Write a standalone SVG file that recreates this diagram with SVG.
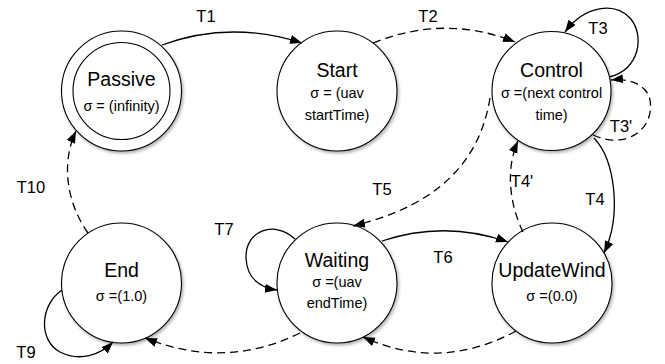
<svg xmlns="http://www.w3.org/2000/svg" width="665" height="364" viewBox="0 0 665 364">
<style>
.node{fill:#fff;stroke:#000;stroke-width:1.1}
.title{font-family:"Liberation Sans",Arial,sans-serif;font-size:19.5px;text-anchor:middle;fill:#000}
.sig{font-family:"Liberation Sans",Arial,sans-serif;font-size:14.5px;text-anchor:middle;fill:#000}
.lbl{font-family:"Liberation Sans",Arial,sans-serif;font-size:16.5px;text-anchor:middle;fill:#000}
.edge{fill:none;stroke:#000;stroke-width:1.3;marker-end:url(#arr)}
.dash{stroke-dasharray:8 5}
</style>
<defs>
<marker id="arr" markerUnits="userSpaceOnUse" markerWidth="13" markerHeight="10" refX="12" refY="4.5" orient="auto">
<path d="M0,0 L12,4.5 L0,9 z" fill="#000"/>
</marker>
<filter id="sh" x="-20%" y="-20%" width="150%" height="150%">
<feDropShadow dx="1.5" dy="2" stdDeviation="1.5" flood-color="#000" flood-opacity="0.3"/>
</filter>
</defs>
<g id="Passive">
<circle class="node" cx="121.5" cy="91" r="60" filter="url(#sh)"/>
<circle class="node" cx="121.5" cy="91" r="48.5"/>
<text class="title" x="121.5" y="86">Passive</text>
<text class="sig" x="121.5" y="111">σ = (infinity)</text>
</g>
<g id="Start">
<circle class="node" cx="337" cy="91" r="60" filter="url(#sh)"/>
<text class="title" x="337" y="77">Start</text>
<text class="sig" x="337" y="98">σ = (uav</text>
<text class="sig" x="337" y="120">startTime)</text>
</g>
<g id="Control">
<circle class="node" cx="551.5" cy="91" r="59.5" filter="url(#sh)"/>
<text class="title" x="551.5" y="77">Control</text>
<text class="sig" x="551.5" y="98">σ =(next control</text>
<text class="sig" x="551.5" y="120">time)</text>
</g>
<g id="End">
<circle class="node" cx="121.5" cy="283" r="60" filter="url(#sh)"/>
<text class="title" x="121.5" y="277">End</text>
<text class="sig" x="121.5" y="301">σ =(1.0)</text>
</g>
<g id="Waiting">
<circle class="node" cx="337" cy="283" r="60" filter="url(#sh)"/>
<text class="title" x="337" y="267">Waiting</text>
<text class="sig" x="337" y="287">σ =(uav</text>
<text class="sig" x="337" y="308">endTime)</text>
</g>
<g id="UpdateWind">
<circle class="node" cx="552" cy="283" r="60" filter="url(#sh)"/>
<text class="title" x="552" y="277">UpdateWind</text>
<text class="sig" x="552" y="301">σ =(0.0)</text>
</g>
<g id="connectors">
<path class="edge" d="M162,45 Q230,20 302,43"/>
<path class="edge dash" d="M373,43 Q445,14 515,42"/>
<path class="edge" d="M609,77 C640,70 645,35 630,18 C615,2 585,5 565,32"/>
<path class="edge dash" d="M593,135 C625,150 655,130 650,100 C647,85 630,78 611,80"/>
<path class="edge" d="M594,138 C615,160 622,215 604,253"/>
<path class="edge dash" d="M523,232 C510,205 505,170 518,141"/>
<path class="edge dash" d="M490,98 C480,160 440,205 353,226"/>
<path class="edge" d="M382,241 Q445,220 508,242"/>
<path class="edge" d="M295,239 C275,220 245,230 246,258 C247,280 262,288 277,290"/>
<path class="edge" d="M62,290 C40,305 38,340 60,352 C80,362 100,355 113,342"/>
<path class="edge dash" d="M300,333 Q225,370 145,338"/>
<path class="edge dash" d="M516,331 Q440,372 363,337"/>
<path class="edge dash" d="M88,233 C68,205 60,165 76,131"/>
<text class="lbl" x="206" y="22">T1</text>
<text class="lbl" x="428" y="22">T2</text>
<text class="lbl" x="598" y="34">T3</text>
<text class="lbl" x="621" y="132">T3'</text>
<text class="lbl" x="522" y="187">T4'</text>
<text class="lbl" x="595" y="205">T4</text>
<text class="lbl" x="382" y="195">T5</text>
<text class="lbl" x="443" y="263">T6</text>
<text class="lbl" x="224" y="235">T7</text>
<text class="lbl" x="26" y="358">T9</text>
<text class="lbl" x="31" y="193">T10</text>
</g>
</svg>
